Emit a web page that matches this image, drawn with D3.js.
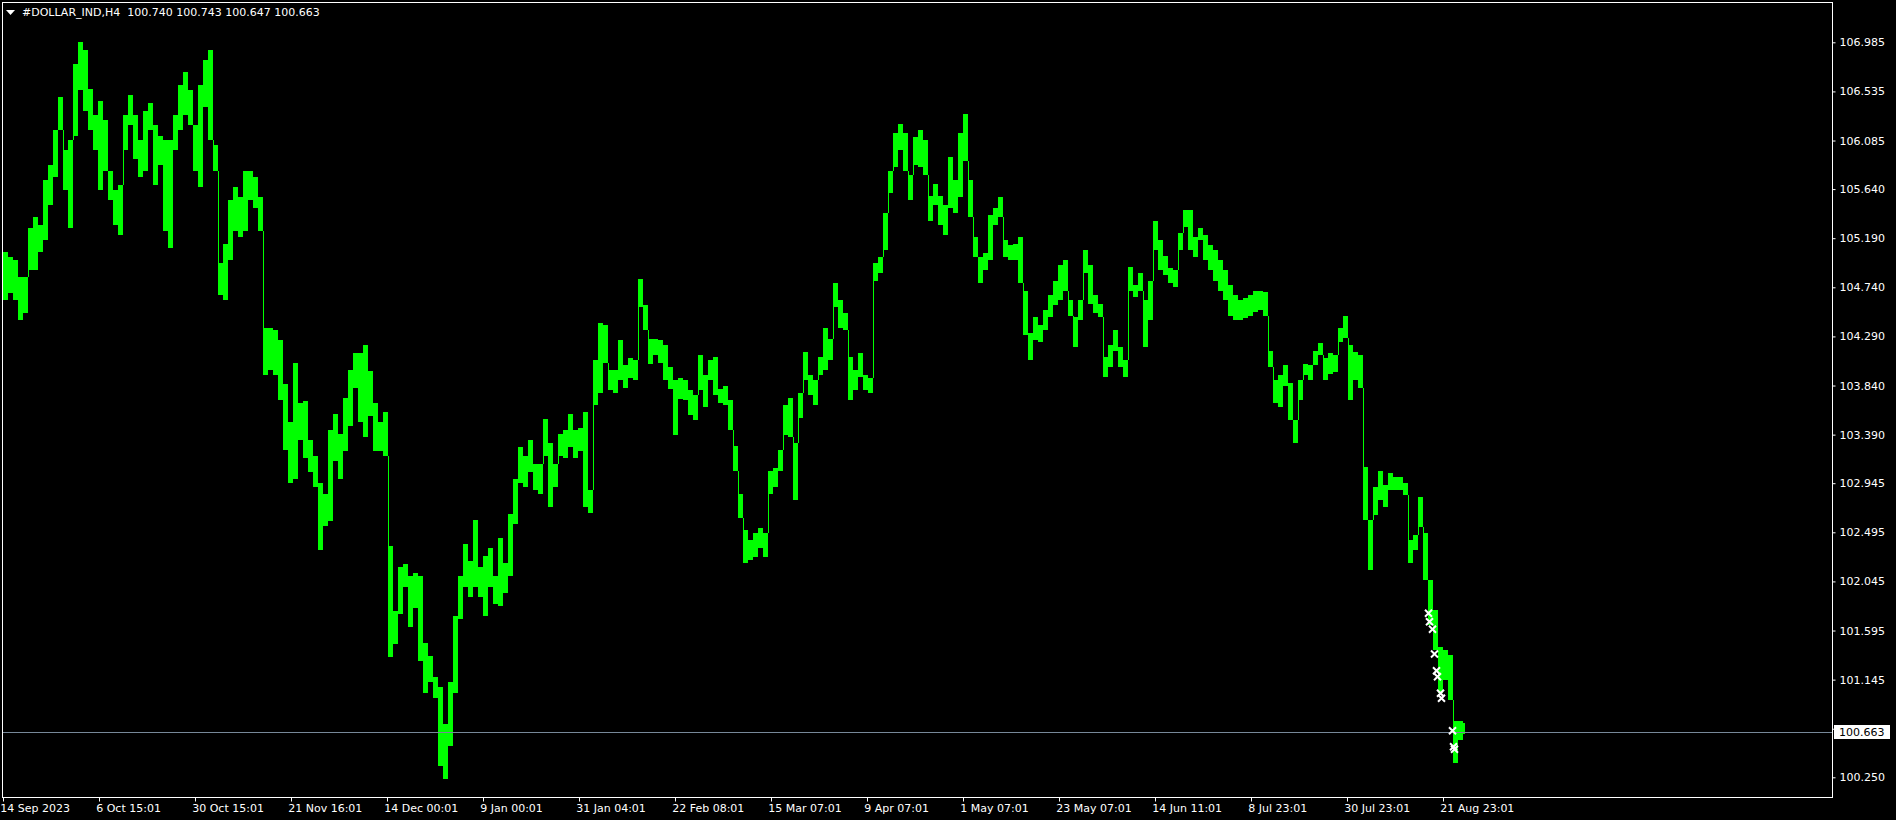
<!DOCTYPE html>
<meta charset="utf-8">
<style>
	body { margin: 0; background: #000; }
	svg { display: block; }
	text { font-family: "DejaVu Sans", sans-serif; font-size: 11px; fill: #fff; white-space: pre; }
	.axis path { display: none; }
	.axis line { stroke: #fff; }
</style>
<body>
<script src="https://cdn.jsdelivr.net/npm/d3@7"></script>
<script>

// H4 bars, 5 bars per group: highest high / lowest low of each group
var groupHigh = [
105.06,105.02,104.99,104.83,104.83,105.28,105.38,105.31,105.72,105.86,106.18,106.48,106.00,106.09,106.79,106.99,106.91,106.56,106.32,106.45,
106.27,105.81,105.63,105.68,106.32,106.50,106.32,106.09,106.36,106.43,106.23,106.13,106.09,106.09,106.32,106.59,106.71,106.55,106.23,106.59,
106.82,106.91,106.04,104.96,105.14,105.54,105.66,105.57,105.81,105.81,105.75,105.57,104.37,104.37,104.35,104.26,103.85,103.51,104.05,103.68,
103.70,103.34,103.19,102.95,102.85,103.43,103.58,103.40,103.73,103.98,104.14,104.14,104.21,103.97,103.68,103.51,103.60,102.37,101.77,102.18,
102.20,102.09,102.12,102.09,101.48,101.36,101.17,101.08,100.74,101.12,101.73,102.09,102.39,102.23,102.61,102.18,102.28,102.35,102.09,102.44,
102.21,102.66,102.98,103.28,103.19,103.34,103.12,103.12,103.53,103.31,103.12,103.40,103.43,103.58,103.43,103.45,103.60,102.88,104.07,104.41,
104.39,103.98,103.98,104.26,104.03,104.09,104.07,104.82,104.58,104.27,104.27,104.26,104.21,104.01,103.89,103.91,103.89,103.80,103.75,104.12,
103.94,104.07,104.10,103.81,103.84,103.71,103.29,102.85,102.52,102.42,102.49,102.53,102.49,103.06,103.08,103.25,103.66,103.73,103.31,103.77,
104.15,103.94,103.89,104.10,104.37,104.27,104.78,104.62,104.50,104.10,103.98,104.14,103.94,103.91,104.96,105.02,105.42,105.81,106.15,106.24,
106.15,105.77,106.12,106.18,106.09,105.58,105.69,105.58,105.49,105.93,105.72,106.15,106.33,105.72,105.20,105.02,105.05,105.40,105.47,105.57,
105.17,105.13,105.14,105.20,104.71,104.32,104.47,104.39,104.53,104.67,104.80,104.94,104.99,104.62,104.47,104.62,105.08,104.94,104.67,104.59,
104.10,104.21,104.35,104.19,104.07,104.93,104.76,104.87,104.62,104.80,105.35,105.17,105.03,104.92,104.90,105.24,105.45,105.45,105.20,105.28,
105.22,105.13,105.08,104.99,104.90,104.76,104.67,104.62,104.64,104.67,104.71,104.71,104.70,104.16,103.89,103.94,104.03,103.86,103.52,103.89,
104.04,104.03,104.16,104.23,104.09,104.14,104.12,104.37,104.48,104.21,104.15,104.12,103.09,102.61,102.91,103.06,102.93,103.04,103.00,103.00,
102.95,102.42,102.47,102.82,102.49,102.06,101.78,101.44,101.42,101.37,100.77,100.77,100.743
];
var groupLow = [
104.62,104.69,104.62,104.44,104.50,104.90,104.90,105.06,105.17,105.49,105.75,106.18,105.63,105.28,106.13,106.55,106.36,106.18,106.00,105.63,
105.81,105.54,105.31,105.22,106.00,106.23,105.92,105.75,105.81,106.18,105.68,105.86,105.26,105.10,106.00,106.18,106.32,106.23,105.81,105.66,
106.39,106.09,105.81,104.67,104.62,104.99,105.26,105.20,105.26,105.54,105.47,105.26,103.94,103.98,103.94,103.71,103.25,102.95,102.98,103.34,
103.18,103.05,102.91,102.33,102.55,102.60,103.15,102.98,103.24,103.47,103.82,103.51,103.37,103.56,103.24,103.24,103.19,101.35,101.47,101.75,
101.99,101.63,101.80,101.32,101.02,101.12,100.98,100.35,100.23,100.54,101.02,101.70,101.99,101.90,101.99,101.90,101.73,101.99,101.84,101.82,
101.94,102.09,102.57,102.95,102.91,103.05,102.88,102.85,103.19,102.73,102.91,103.19,103.18,103.28,103.18,103.24,102.73,102.67,103.66,103.77,
104.05,103.80,103.77,103.89,103.82,103.91,103.89,104.56,104.35,104.04,104.12,104.05,103.89,103.81,103.39,103.72,103.71,103.57,103.52,103.80,
103.64,103.89,103.75,103.68,103.66,103.43,103.06,102.63,102.21,102.24,102.27,102.35,102.27,102.85,102.91,103.06,103.39,103.37,102.79,103.54,
103.89,103.75,103.66,103.94,103.98,104.07,104.56,104.37,104.35,103.71,103.80,103.92,103.80,103.77,104.80,104.87,105.08,105.60,105.84,106.00,
105.81,105.54,105.86,105.84,105.77,105.35,105.49,105.31,105.22,105.47,105.42,105.57,105.90,105.38,105.02,104.78,104.90,104.99,105.31,105.38,
105.02,104.99,104.99,104.78,104.30,104.07,104.26,104.24,104.35,104.47,104.58,104.62,104.71,104.48,104.19,104.44,104.87,104.59,104.50,104.47,
103.92,104.01,104.16,104.01,103.92,104.71,104.65,104.71,104.19,104.44,105.08,104.90,104.85,104.78,104.74,105.08,105.29,105.08,105.02,105.17,
104.99,104.90,104.80,104.71,104.62,104.48,104.44,104.44,104.46,104.48,104.51,104.53,104.48,104.01,103.68,103.64,103.84,103.52,103.31,103.71,
103.94,103.89,104.03,104.12,103.89,103.95,103.96,104.24,104.28,103.71,103.89,103.82,102.61,102.15,102.65,102.79,102.73,102.88,102.88,102.88,
102.84,102.21,102.33,102.54,102.06,101.65,101.42,101.02,101.14,100.96,100.38,100.59,100.647
];
var barCount = 1462;
var groupSize = 5;

// trade markers (bar number, price)
var markerBars = [1425, 1426, 1429, 1431, 1433, 1434, 1437, 1438, 1449, 1450, 1451];
var markerPrices = [101.753, 101.676, 101.606, 101.380, 101.227, 101.172, 101.020, 100.974, 100.677, 100.530, 100.507];

var priceTicks = [106.985, 106.535, 106.085, 105.640, 105.190, 104.740, 104.290, 103.840, 103.390, 102.945, 102.495, 102.045, 101.595, 101.145, 100.695, 100.250];
var timeTickBars = [0, 96, 192, 288, 384, 480, 576, 672, 768, 864, 960, 1056, 1152, 1248, 1344, 1440];
var timeTickLabels = ["14 Sep 2023", "6 Oct 15:01", "30 Oct 15:01", "21 Nov 16:01", "14 Dec 00:01", "9 Jan 00:01", "31 Jan 04:01", "22 Feb 08:01", "15 Mar 07:01", "9 Apr 07:01", "1 May 07:01", "23 May 07:01", "14 Jun 11:01", "8 Jul 23:01", "30 Jul 23:01", "21 Aug 23:01"];

var lastPrice = 100.663;
var title = "#DOLLAR_IND,H4  100.740 100.743 100.647 100.663";

var width = 1896, height = 820;
var plotLeft = 2, plotTop = 2, plotRight = 1832, plotBottom = 797;

var svg = d3.select("body").append("svg")
	.attr("width", width)
	.attr("height", height);

svg.append("rect").attr("width", width).attr("height", height).attr("fill", "#000");

var x = d3.scaleLinear().domain([0, barCount]).range([3, 3 + barCount]);
var y = d3.scaleLinear().domain([100.250, 106.985]).range([777.3, 42.3]);

var groups = groupHigh.map(function(h, i) {
	return {i: i, hi: h, lo: groupLow[i]};
});

// bars
var bars = svg.append("g").attr("shape-rendering", "crispEdges");
bars.selectAll("rect")
	.data(groups)
	.enter().append("rect")
	.attr("x", function(d) { return x(d.i * groupSize); })
	.attr("width", function(d) { return x(Math.min(d.i * groupSize + groupSize, barCount)) - x(d.i * groupSize); })
	.attr("y", function(d) { return y(d.hi); })
	.attr("height", function(d) { return Math.max(1, y(d.lo) - y(d.hi)); })
	.attr("fill", "#00ff00");

// thin bar where price jumps between groups
bars.selectAll("line")
	.data(groups.slice(1))
	.enter().append("line")
	.attr("x1", function(d) { return x(d.i * groupSize) + 0.5; })
	.attr("x2", function(d) { return x(d.i * groupSize) + 0.5; })
	.attr("y1", function(d) { return y(Math.min(d.hi, groups[d.i - 1].hi)); })
	.attr("y2", function(d) { return y(Math.max(d.lo, groups[d.i - 1].lo)); })
	.attr("stroke", "#00ff00")
	.attr("stroke-width", 1);

// current price line
var ly = Math.round(y(lastPrice));
svg.append("line")
	.attr("x1", plotLeft).attr("x2", plotRight)
	.attr("y1", ly + 0.5).attr("y2", ly + 0.5)
	.attr("stroke", "#778899");

// markers
var marks = svg.append("g");
markerBars.forEach(function(b, i) {
	var cx = x(b) + 0.5, cy = y(markerPrices[i]), s = 3.5;
	marks.append("path")
		.attr("d", "M" + (cx - s) + "," + (cy - s) + "L" + (cx + s) + "," + (cy + s) + "M" + (cx + s) + "," + (cy - s) + "L" + (cx - s) + "," + (cy + s))
		.attr("stroke", "#fff")
		.attr("stroke-width", 2);
});

// frame
svg.append("rect")
	.attr("x", plotLeft + 0.5).attr("y", plotTop + 0.5)
	.attr("width", plotRight - plotLeft).attr("height", plotBottom - plotTop)
	.attr("fill", "none").attr("stroke", "#fff");

// price axis
var yAxis = svg.append("g")
	.attr("class", "axis")
	.attr("transform", "translate(" + (plotRight + 0.5) + ",0)")
	.call(d3.axisRight(y).tickValues(priceTicks).tickFormat(d3.format(".3f")).tickSize(3).tickPadding(4));
yAxis.selectAll("text").attr("fill", "#fff");

// time axis
var xAxis = svg.append("g")
	.attr("class", "axis")
	.attr("transform", "translate(0," + (plotBottom + 0.5) + ")")
	.call(d3.axisBottom(x).tickValues(timeTickBars).tickFormat(function(d, i) { return timeTickLabels[i]; }).tickSize(4).tickPadding(3));
xAxis.selectAll("text").attr("fill", "#fff").attr("text-anchor", "start").attr("dx", "-0.3em");

// last price label
svg.append("rect")
	.attr("x", plotRight + 2).attr("y", ly - 7)
	.attr("width", 56).attr("height", 14)
	.attr("fill", "#fff");
svg.append("text")
	.attr("x", plotRight + 7).attr("y", ly + 4)
	.style("fill", "#000")
	.text(d3.format(".3f")(lastPrice));

// title
svg.append("path").attr("d", "M6,10L15,10L10.5,15Z").attr("fill", "#fff");
svg.append("text").attr("x", 22).attr("y", 16).text(title);

</script>
</body>
</html>
